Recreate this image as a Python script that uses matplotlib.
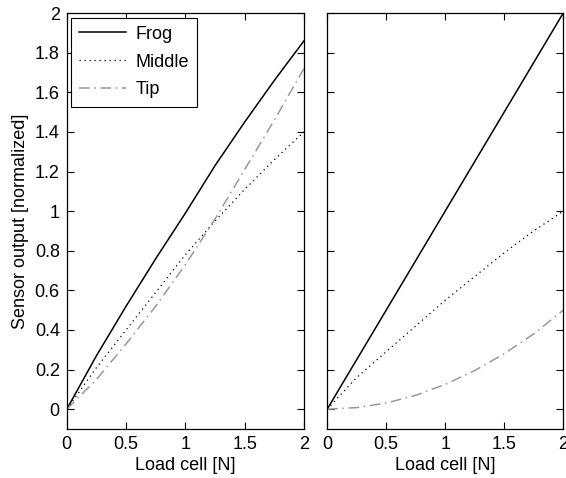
import numpy as np
import matplotlib
matplotlib.use('Agg')
import matplotlib.pyplot as plt

plt.rcParams['font.family'] = ['Liberation Sans', 'DejaVu Sans']
plt.rcParams['font.size'] = 13

# load cell force [N]
x = [0, 0.25, 0.5, 0.75, 1.0, 1.25, 1.5, 1.75, 2.0]

# left panel (measured)
frog_l = [0, 0.27, 0.52, 0.76, 0.99, 1.23, 1.45, 1.66, 1.86]
middle_l = [0, 0.21, 0.40, 0.59, 0.78, 0.95, 1.11, 1.26, 1.40]
tip_l = [0, 0.15, 0.33, 0.52, 0.73, 0.96, 1.21, 1.46, 1.72]

# right panel (model)
frog_r = [0, 0.25, 0.5, 0.75, 1.0, 1.25, 1.5, 1.75, 2.0]
middle_r = [0, 0.16, 0.29, 0.42, 0.55, 0.67, 0.79, 0.90, 1.0]
tip_r = [0, 0.008, 0.031, 0.07, 0.125, 0.195, 0.28, 0.38, 0.5]

names = ['Frog', 'Middle', 'Tip']
xticks = [0, 0.5, 1, 1.5, 2]
yticks = [0, 0.2, 0.4, 0.6, 0.8, 1, 1.2, 1.4, 1.6, 1.8, 2]
gray = '#999999'

fig = plt.figure(figsize=(5.66, 4.78), dpi=100)
ax1 = fig.add_axes([0.118, 0.1025, 0.419, 0.870])
ax2 = fig.add_axes([0.578, 0.1025, 0.417, 0.870])

for ax, fr, mi, ti in [(ax1, frog_l, middle_l, tip_l), (ax2, frog_r, middle_r, tip_r)]:
    ax.plot(x, fr, '-', color='k', lw=1.1, label=names[0])
    ax.plot(x, mi, linestyle=(0, (1, 3)), color='k', lw=0.9, label=names[1])
    ax.plot(x, ti, linestyle=(0, (7, 3, 1, 3)), color=gray, lw=1.1, label=names[2])
    ax.set_xlim(0, 2)
    ax.set_ylim(-0.1, 2)
    ax.set_xticks(xticks)
    ax.set_xticklabels(['0', '0.5', '1', '1.5', '2'])
    ax.set_yticks(yticks)
    ax.tick_params(direction='in', top=True, right=True, length=5, width=0.8, pad=5)
    for s in ax.spines.values():
        s.set_linewidth(0.9)
    ax.set_xlabel('Load cell [N]', labelpad=3)

ax1.set_yticklabels(['0', '0.2', '0.4', '0.6', '0.8', '1', '1.2', '1.4', '1.6', '1.8', '2'])
ax2.set_yticklabels([])
ax1.set_ylabel('Sensor output [normalized]', labelpad=4)

leg = ax1.legend(loc='upper left', handlelength=2.6, fancybox=False,
                 edgecolor='k', framealpha=1, borderaxespad=0.25,
                 borderpad=0.45, labelspacing=0.6, handletextpad=0.5)
leg.get_frame().set_linewidth(0.8)

fig.savefig('out.png', dpi=100)
